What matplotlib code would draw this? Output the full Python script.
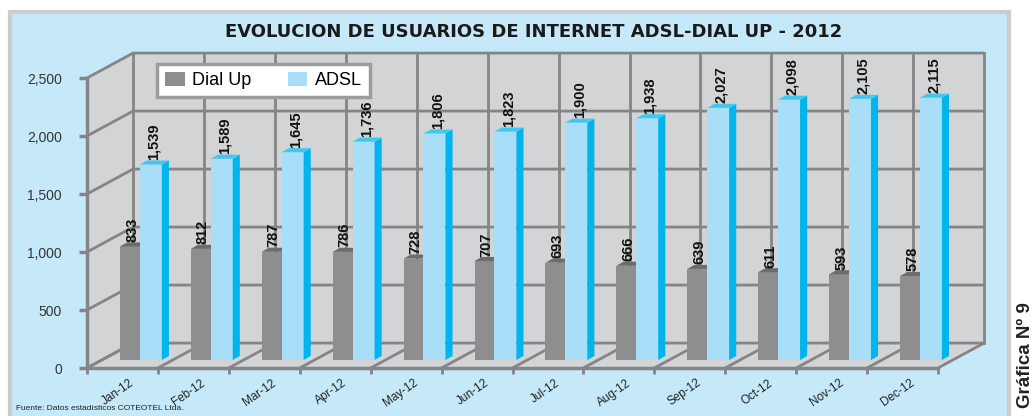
import matplotlib.pyplot as plt
from matplotlib.patches import Polygon, Rectangle, Patch
from matplotlib.transforms import offset_copy

months = ["Jan-12", "Feb-12", "Mar-12", "Apr-12", "May-12", "Jun-12",
          "Jul-12", "Aug-12", "Sep-12", "Oct-12", "Nov-12", "Dec-12"]
dial_up = [833, 812, 787, 786, 728, 707, 693, 666, 639, 611, 593, 578]
adsl = [1539, 1589, 1645, 1736, 1806, 1823, 1900, 1938, 2027, 2098, 2105, 2115]
y_ticks = [0, 500, 1000, 1500, 2000, 2500]

W, H = 1034, 416
panel_col = "#c6e9fa"
wall_col = "#d3d4d6"
grid_col = "#858587"
gray_front, gray_top = "#8e8e91", "#6c6c6f"
blue_front, blue_side, blue_top = "#a8def8", "#00b5ec", "#40c8f2"

fig = plt.figure(figsize=(W / 100, H / 100), dpi=100)
fig.patch.set_facecolor("white")

# light blue panel with grey border
fig.patches.append(Rectangle((10 / W, -0.01), 999 / W, 1 - 12 / H + 0.01,
                             transform=fig.transFigure, facecolor=panel_col,
                             edgecolor="#cccccc", lw=3, zorder=-5))

ax = fig.add_axes([87 / W, 48 / H, 851 / W, 290 / H])
ax.set_xlim(0, 12)
ax.set_ylim(0, 2500)
ax.patch.set_alpha(0)

n = len(months)
DX, DY = 0.65, 215      # depth of the 3d box
f = 0.32                # where the bars stand inside the depth
bdx, bdy = 0.1, 35      # bar thickness
top_v = y_ticks[-1]

# walls and floor
walls = [
    [(DX, DY), (n + DX, DY), (n + DX, DY + top_v), (DX, DY + top_v)],
    [(0, 0), (DX, DY), (DX, DY + top_v), (0, top_v)],
    [(0, 0), (n, 0), (n + DX, DY), (DX, DY)],
]
for w in walls:
    ax.add_patch(Polygon(w, closed=True, facecolor=wall_col, edgecolor="none",
                         clip_on=False, zorder=0.5))

# gridlines
for v in y_ticks:
    ax.plot([0, DX, n + DX], [v, v + DY, v + DY], color=grid_col, lw=2,
            clip_on=False, zorder=1, solid_capstyle="butt")
for k in range(n + 1):
    ax.plot([k + DX, k + DX], [DY, DY + top_v], color=grid_col, lw=2,
            clip_on=False, zorder=1)
    ax.plot([k, k + DX], [0, DY], color=grid_col, lw=2, clip_on=False, zorder=1)

# bars
gw, aw = 0.28, 0.31
base = f * DY
lab_font = dict(rotation=90, ha="center", va="bottom", fontsize=10.5,
                fontweight="bold", family="Liberation Sans", color="#111111",
                zorder=4)
for k in range(n):
    x0 = k + 0.5 + f * DX - 0.243
    # dial up
    top = DY + dial_up[k]
    ax.bar(x0, top - base, width=gw, bottom=base, align="edge",
           color=gray_front, zorder=2, clip_on=False)
    ax.add_patch(Polygon([(x0, top), (x0 + gw, top), (x0 + gw + bdx, top + bdy),
                          (x0 + bdx, top + bdy)], facecolor=gray_top,
                         edgecolor="none", zorder=2, clip_on=False))
    ax.text(x0 + gw / 2 + 0.03, top + bdy + 4, f"{dial_up[k]:,}", **lab_font)
    # adsl
    x1 = x0 + gw
    top = DY + adsl[k]
    ax.bar(x1, top - base, width=aw, bottom=base, align="edge",
           color=blue_front, zorder=3, clip_on=False)
    ax.add_patch(Polygon([(x1 + aw, base), (x1 + aw + bdx, base + bdy),
                          (x1 + aw + bdx, top + bdy), (x1 + aw, top)],
                         facecolor=blue_side, edgecolor="none", zorder=3,
                         clip_on=False))
    ax.add_patch(Polygon([(x1, top), (x1 + aw, top), (x1 + aw + bdx, top + bdy),
                          (x1 + bdx, top + bdy)], facecolor=blue_top,
                         edgecolor="none", zorder=3, clip_on=False))
    ax.text(x1 + aw / 2 + 0.04, top + bdy + 4, f"{adsl[k]:,}", **lab_font)

# axes styling
for s in ["top", "right"]:
    ax.spines[s].set_visible(False)
for s in ["left", "bottom"]:
    ax.spines[s].set_color(grid_col)
    ax.spines[s].set_linewidth(2.5)
    ax.spines[s].set_zorder(1.5)

ax.set_yticks(y_ticks)
ax.set_yticklabels([f"{v:,}" for v in y_ticks], fontsize=10,
                   family="Liberation Sans", color="#333333")
ax.tick_params(axis="y", length=6, width=2.5, color=grid_col, pad=12)

ax.set_xticks(range(n + 1))
ax.set_xticklabels([])
ax.tick_params(axis="x", length=4, width=2, color=grid_col)
lab_tr = offset_copy(ax.transData, fig=fig, x=0, y=-9, units="dots")
for k, m in enumerate(months):
    ax.text(k + 0.6, 0, m, transform=lab_tr, rotation=35, ha="right", va="top",
            rotation_mode="anchor", fontsize=8.5, family="Liberation Sans",
            color="#222222")

# legend
handles = [Patch(facecolor=gray_front, label="Dial Up"),
           Patch(facecolor=blue_front, label="ADSL")]
leg = fig.legend(handles=handles, loc="upper left", ncol=2,
                 bbox_to_anchor=(157 / W, 1 - 64 / H), fancybox=False,
                 framealpha=1, prop={"family": "Liberation Sans", "size": 13},
                 handlelength=1.1, handleheight=0.8, columnspacing=2.0,
                 handletextpad=0.4, borderpad=0.45, borderaxespad=0)
leg.get_frame().set_edgecolor("#9c9c9c")
leg.get_frame().set_linewidth(2.5)
leg.set_zorder(10)

fig.text(534 / W, 1 - 32 / H, "EVOLUCION DE USUARIOS DE INTERNET ADSL-DIAL UP - 2012",
         ha="center", va="center", fontsize=13, fontweight="bold",
         color="#1a1a1a")
fig.text(16 / W, 1 - 408 / H, "Fuente: Datos estadísticos COTEOTEL Ltda.",
         ha="left", va="center", fontsize=6, family="Liberation Sans",
         color="#222222")
fig.text(1026 / W, 1 - 302 / H, "Gráfica Nº 9", rotation=90, ha="center",
         va="top", fontsize=13.5, fontweight="bold", family="Liberation Sans",
         color="#222222")

fig.savefig("out.png", dpi=100)
